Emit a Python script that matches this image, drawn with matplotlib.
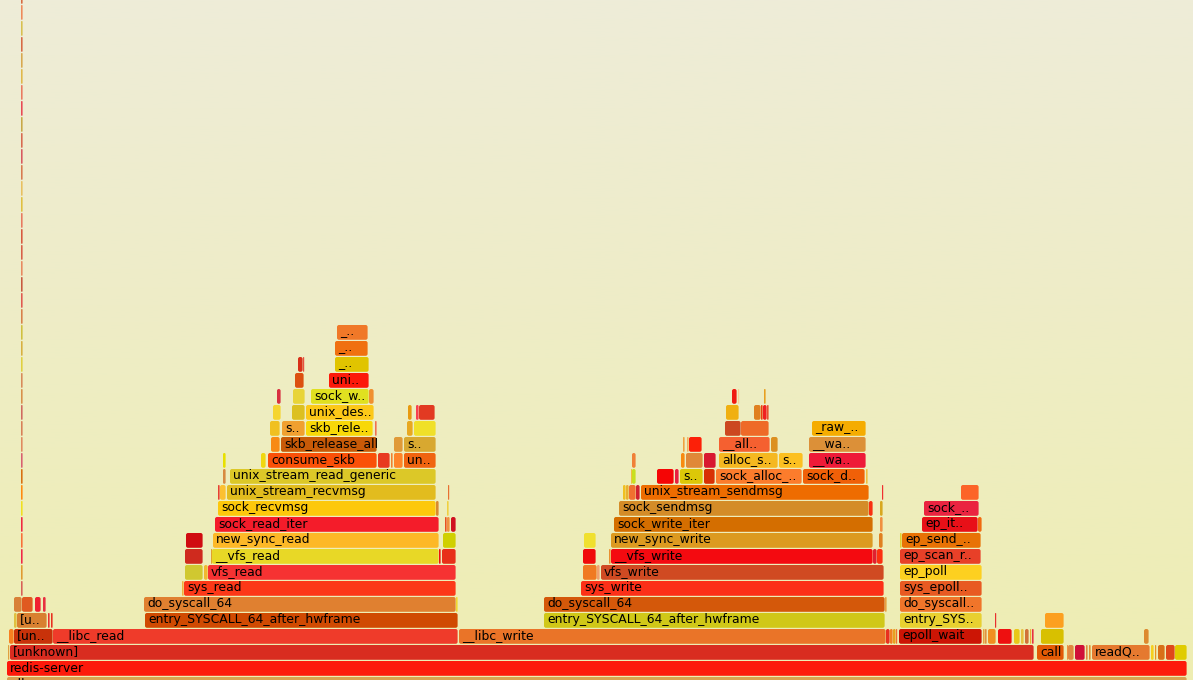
import numpy as np
import matplotlib
matplotlib.use("Agg")
import matplotlib.pyplot as plt
from matplotlib.patches import FancyBboxPatch
from matplotlib.colors import LinearSegmentedColormap

# Flame graph frames, one line per stack level, x measured in samples
frame_starts = [
    [7],
    [8, 10, 1037, 1067, 1068, 1075, 1086, 1089, 1092, 1151, 1155, 1158, 1166, 1175],
    [9, 14, 53, 459, 886, 890, 893, 896, 899, 983, 985, 988, 998, 1014, 1021, 1025, 1030, 1032, 1041, 1144],
    [14, 17, 48, 51, 145, 544, 900, 995, 1045],
    [14, 22, 35, 43, 144, 456, 544, 885, 900],
    [182, 184, 581, 900],
    [185, 204, 208, 583, 597, 601, 900],
    [185, 211, 212, 439, 442, 583, 609, 611, 873, 877, 900],
    [186, 213, 443, 584, 611, 879, 900, 902],
    [215, 445, 447, 451, 614, 880, 922, 978],
    [218, 436, 447, 619, 869, 880, 924],
    [218, 220, 227, 448, 623, 626, 629, 636, 641, 882, 961],
    [223, 230, 631, 632, 657, 675, 680, 704, 716, 803, 866],
    [223, 261, 268, 378, 391, 394, 404, 632, 681, 686, 704, 719, 779, 809],
    [271, 281, 394, 404, 683, 687, 689, 719, 771, 809],
    [270, 282, 306, 375, 407, 414, 725, 741, 812],
    [273, 292, 306, 408, 416, 419, 726, 754, 761, 763, 767],
    [277, 293, 311, 369, 732, 738, 764],
    [295, 329],
    [298, 303, 335],
    [335],
    [337],
]
frame_ends = [
    [1187],
    [9.5, 1034, 1064, 1068, 1074, 1085, 1088, 1091, 1150, 1154, 1156, 1165, 1175, 1187],
    [14, 53, 458, 886, 890, 893, 896, 897, 982, 985, 987, 996, 1012, 1020, 1024, 1029, 1031, 1034, 1064, 1149],
    [17, 47, 50, 53, 458, 885, 982, 996, 1064],
    [22, 33, 41, 46, 456, 458, 885, 887, 982],
    [184, 456, 884, 982],
    [203, 208, 456, 597, 600, 884, 982],
    [203, 212, 439, 441, 456, 596, 611, 873, 877, 883, 981],
    [203, 439, 456, 596, 873, 883, 902, 981],
    [439, 447, 450, 456, 873, 883, 978, 982],
    [436, 439, 449, 869, 873, 883, 979],
    [220, 226, 436, 449, 626, 629, 636, 640, 869, 883, 979],
    [226, 436, 632, 636, 674, 679, 703, 715, 802, 865, 868],
    [226, 266, 377, 390, 393, 403, 436, 636, 685, 703, 716, 778, 803, 866],
    [280, 377, 403, 436, 685, 689, 702, 770, 778, 866],
    [280, 305, 373, 377, 413, 436, 741, 769, 866],
    [281, 305, 374, 412, 419, 435, 739, 761, 763, 767, 769],
    [281, 305, 369, 374, 737, 739, 766],
    [304, 369],
    [303, 304, 369],
    [368],
    [368],
]
frame_colors = [
    ["#fd1a0b"],
    ["#e0a040", "#d92c20", "#e35a05", "#f09040", "#e08840", "#d01038", "#e08840", "#e09030",
     "#e5792f", "#f5d020", "#e89020", "#d87018", "#e0481a", "#e0cc00"],
    ["#f78020", "#c8320a", "#ef3b2a", "#ea7428", "#e83020", "#f08020", "#e8a020", "#f07030",
     "#cc1505", "#e8a040", "#e09040", "#f09020", "#ee1010", "#e8c818", "#e8c040", "#d07038",
     "#e8b030", "#e83040", "#d8c000", "#dd8a30"],
    ["#e0c040", "#d88030", "#e83030", "#e83020", "#d04a02", "#d0c818", "#e8d030", "#e83030", "#fca020"],
    ["#d88038", "#e05a20", "#f02030", "#e83040", "#e08030", "#f0d830", "#d4580a", "#e8a040", "#f0752a"],
    ["#f0b040", "#fc3818", "#fc3018", "#e85a22"],
    ["#d0c830", "#f0b830", "#f63232", "#f07a22", "#f0a070", "#d04a22", "#fdd020"],
    ["#cf2a1e", "#e0a030", "#e8d826", "#f01010", "#e83018", "#f00a0a", "#e89030", "#f40a10",
     "#e02030", "#fc3010", "#e84028"],
    ["#d00c10", "#fdb827", "#d0d000", "#f0e030", "#dc9a20", "#e08020", "#e0d030", "#e87205"],
    ["#f41c2a", "#e85020", "#f09040", "#d01020", "#d46e00", "#f09040", "#e81018", "#f06a10"],
    ["#fdc80c", "#d88a30", "#f0d040", "#d48c28", "#f83010", "#d8a820", "#ea2440"],
    ["#e84030", "#fcc030", "#e2bc1e", "#e87030", "#f0c020", "#e8b030", "#f07030", "#d02030",
     "#ee6c00", "#f03030", "#fc6428"],
    ["#d88a40", "#dcc828", "#f0c040", "#c8e020", "#f50505", "#e82040", "#dcc808", "#d83005",
     "#fc7c2c", "#f06008", "#f0c040"],
    ["#e8e000", "#f0d810", "#fa5008", "#e83a20", "#f08030", "#ff8428", "#f06410", "#f08038",
     "#f88a10", "#e08838", "#d81830", "#f5b820", "#fcc020", "#ee1a38"],
    ["#f88a14", "#c85a08", "#e09a38", "#d8a830", "#f0a040", "#f0b060", "#fc2008", "#f56030",
     "#dc9020", "#dc9038"],
    ["#f0c020", "#f0a030", "#f8d808", "#f07050", "#e8a820", "#f0e028", "#cc4820", "#ee6a28", "#f5ac00"],
    ["#f5d530", "#dcc020", "#fcc818", "#e89a10", "#f84050", "#e23a22", "#f0b010", "#e08020",
     "#e84010", "#f02020", "#e85030"],
    ["#d83040", "#e8d438", "#e0e020", "#f09030", "#f01a10", "#f8d090", "#e8a020"],
    ["#dc5010", "#fc1a0a"],
    ["#d83018", "#e85040", "#e0c400"],
    ["#f07010"],
    ["#f07828"],
]

# Frame names, only where the box was wide enough to hold one
label_levels = [0, 1, 1, 1, 2, 2, 2, 2, 3, 3, 3, 3, 4, 4, 4, 5, 5, 5, 6, 6, 6, 7, 7, 7,
                8, 8, 8, 9, 9, 9, 10, 10, 10, 11, 11, 12, 12, 12, 12,
                13, 13, 13, 13, 13, 14, 14, 14, 14, 15, 15, 15, 16, 17, 18, 19, 20, 21]
label_starts = [7, 10, 1037, 1092, 14, 53, 459, 899, 17, 145, 544, 900, 144, 544, 900, 184, 581, 900,
                208, 601, 900, 212, 611, 900, 213, 611, 902, 215, 614, 922, 218, 619, 924, 227, 641,
                230, 680, 716, 803,
                268, 404, 719, 779, 809, 281, 404, 719, 809, 282, 306, 812, 306, 311, 329, 335, 335, 337]
label_names = ["redis-server", "[unknown]", "call", "readQ..", "[un..", "__libc_read", "__libc_write", "epoll_wait",
               "[u..", "entry_SYSCALL_64_after_hwframe", "entry_SYSCALL_64_after_hwframe", "entry_SYS..",
               "do_syscall_64", "do_syscall_64", "do_syscall..", "sys_read", "sys_write", "sys_epoll..",
               "vfs_read", "vfs_write", "ep_poll", "__vfs_read", "__vfs_write", "ep_scan_r..",
               "new_sync_read", "new_sync_write", "ep_send_..", "sock_read_iter", "sock_write_iter", "ep_it..",
               "sock_recvmsg", "sock_sendmsg", "sock_..", "unix_stream_recvmsg", "unix_stream_sendmsg",
               "unix_stream_read_generic", "s..", "sock_alloc_..", "sock_d..",
               "consume_skb", "un..", "alloc_s..", "s..", "__wa..", "skb_release_all", "s..", "__all..", "__wa..",
               "s..", "skb_rele..", "_raw_..", "unix_des..", "sock_w..", "uni..", "_..", "_..", "_.."]

# The very deep, very thin stack near the left edge, bottom to top
column_start = 21
column_end = 23
column_colors = ["#d86058", "#e09a30", "#f02848", "#f87038", "#f02a40", "#f0e020", "#ff8a10", "#d87010",
                 "#d86070", "#e08a60", "#d88058", "#d06a60", "#d8904a", "#d88a5a", "#e0d040", "#d8b040",
                 "#d0c040", "#d8804a", "#e05a50", "#c85a40", "#e88a60", "#d86048", "#d85a40", "#e87a60",
                 "#e0c040", "#e8c060", "#d87a50", "#d85a60", "#d86a50", "#c8a848", "#e84a55", "#ea7a60",
                 "#e0b84a", "#d8a84f", "#d86a45", "#d8c050", "#ee8a5a", "#d66a40"]
root_color = "#d9a050"

ROW = 16
BASE = 661
FONT_SIZE = 8.92


def draw_frame(ax, level, start, end, color):
    top = BASE - ROW * level
    width = max(end - start - 0.4, 1.2)
    rounding = min(2, width / 2)
    ax.add_patch(FancyBboxPatch((start, top), width, ROW - 1.2, boxstyle=f"round,pad=0,rounding_size={rounding}",
                                facecolor=color, edgecolor="none", linewidth=0))


fig = plt.figure(figsize=(11.93, 6.8), dpi=100)
ax = fig.add_axes([0, 0, 1, 1])
ax.set_xlim(0, 1193)
ax.set_ylim(680, 0)
ax.axis("off")

# pale cream to pale yellow background
bg = LinearSegmentedColormap.from_list("bg", ["#eeecd8", "#eeeeb2"])
ax.imshow(np.linspace(0, 1, 256).reshape(-1, 1), cmap=bg, aspect="auto", extent=(0, 1193, 680, 0), zorder=0)

# root row, only a sliver of it is visible at the bottom
draw_frame(ax, -1, 7, 1187, root_color)

for level, starts in enumerate(frame_starts):
    for start, end, color in zip(starts, frame_ends[level], frame_colors[level]):
        draw_frame(ax, level, start, end, color)

for i, color in enumerate(column_colors):
    draw_frame(ax, i + 5, column_start, column_end, color)

ax.text(10, BASE + ROW + 10.5, "all", fontsize=FONT_SIZE, color="black", clip_on=True)
for level, start, name in zip(label_levels, label_starts, label_names):
    ax.text(start + 3, BASE - ROW * level + 10.5, name, fontsize=FONT_SIZE, color="black", va="baseline")

fig.savefig("out.png", dpi=100)
